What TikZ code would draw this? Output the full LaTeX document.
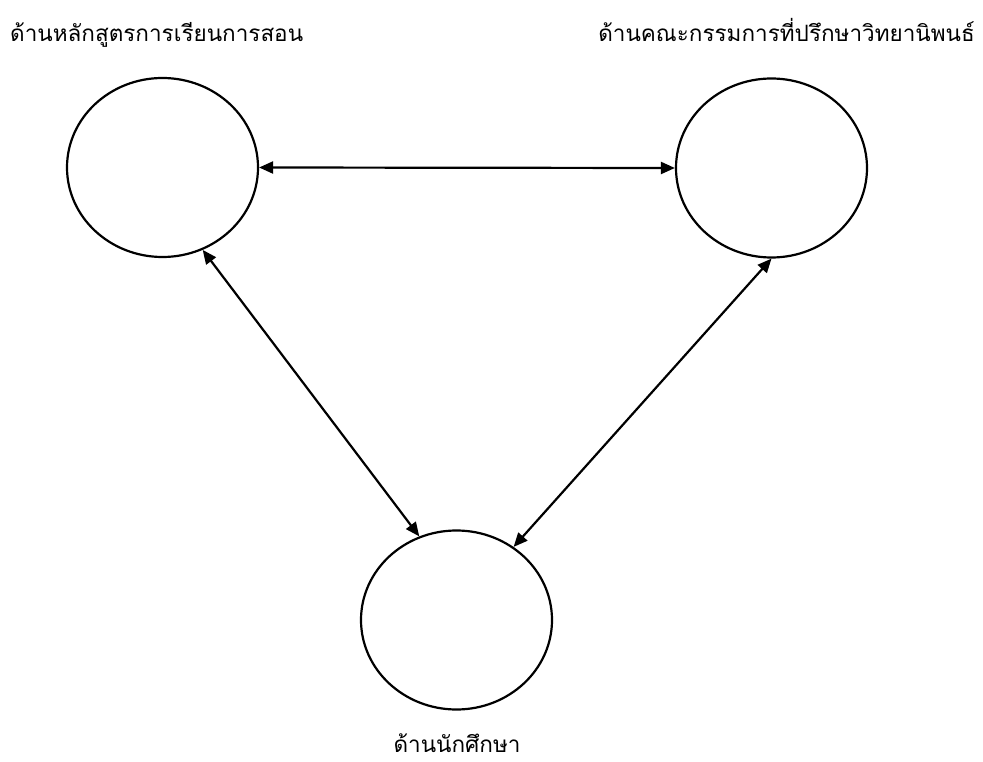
\documentclass[tikz,border=0pt]{standalone}
\usepackage{fontspec}
\newfontfamily\thaifont[Script=Thai]{Loma}
\usetikzlibrary{shapes,arrows.meta}

\begin{document}
\begin{tikzpicture}[x=1pt, y=-1pt,
      aspect/.style={draw, ellipse, line width=2.2pt, minimum width=191pt, minimum height=179pt, inner sep=0pt},
      link/.style={line width=2.2pt, {Triangle[length=14pt,width=12pt]}-{Triangle[length=14pt,width=12pt]}},
      title/.style={font=\thaifont\fontsize{22.5}{26}\selectfont, inner sep=0pt}]
      \useasboundingbox (0, 0) rectangle (983, 762);
      \node (curr) [aspect] at (162.5, 167.5) {};
      \node (board) [aspect] at (771.5, 168) {};
      \node (stud) [aspect] at (456.5, 620) {};
      \node (currtitle) [title, anchor=base west] at (10, 42) {ด้านหลักสูตรการเรียนการสอน};
      \node (boardtitle) [title, anchor=base east] at (975, 42) {ด้านคณะกรรมการที่ปรึกษาวิทยานิพนธ์};
      \node (studtitle) [title, anchor=base] at (457, 752) {ด้านนักศึกษา};
      \draw [link] (curr.east) -- (board.west);
      \draw [link] (curr.-64) -- (stud.114);
      \draw [link] (board.-90) -- (stud.52);
\end{tikzpicture}
\end{document}
